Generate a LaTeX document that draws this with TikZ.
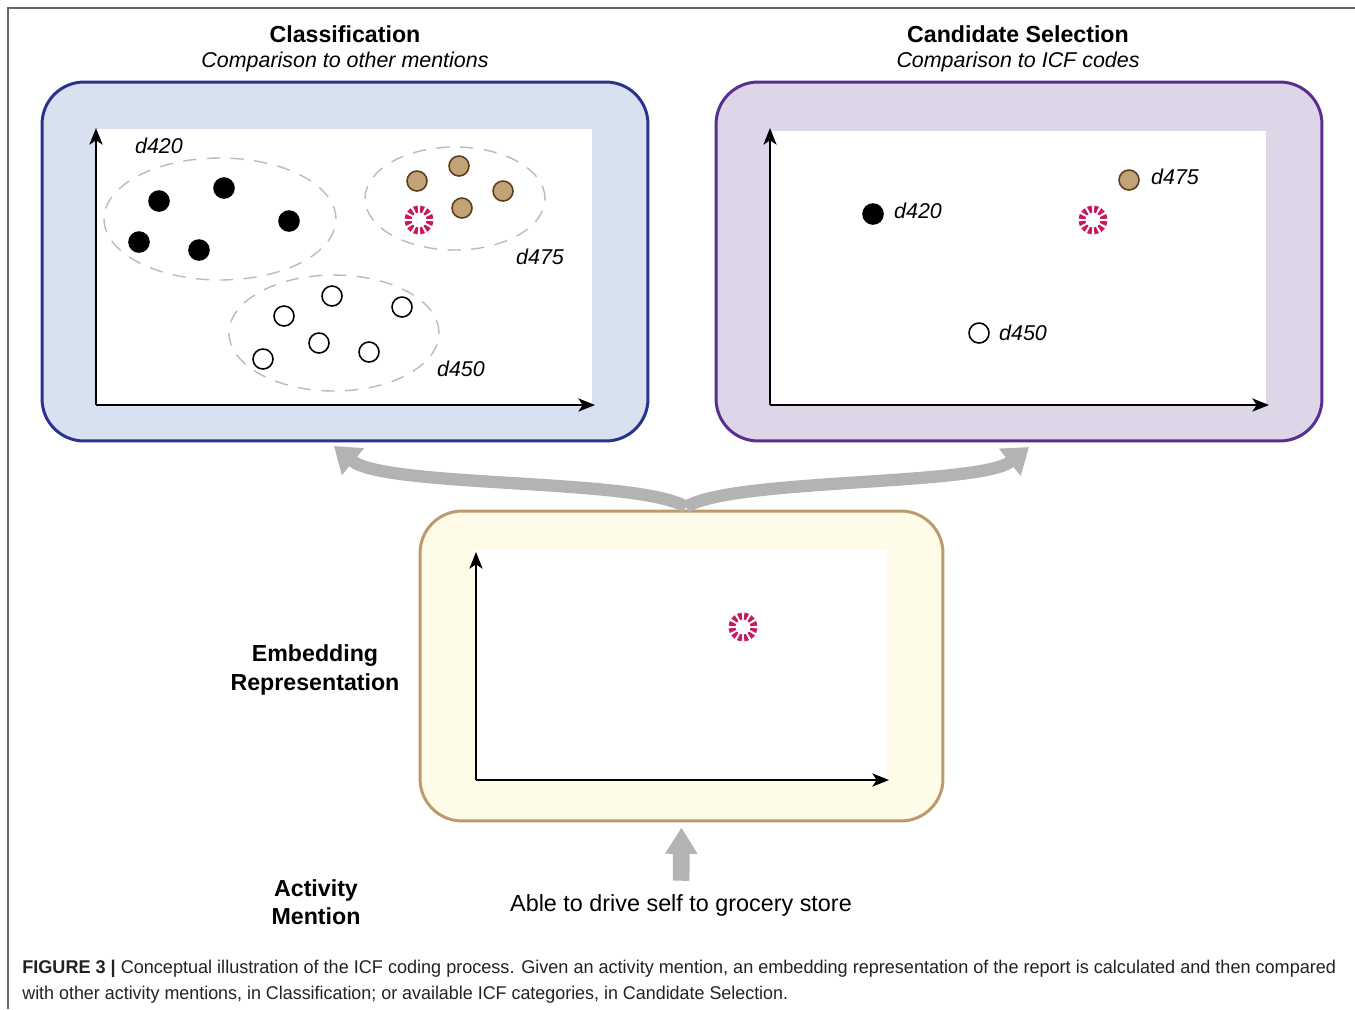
\documentclass[tikz,border=0pt]{standalone}
\usepackage{fontspec}
\usepackage{graphicx}
\setmainfont{Liberation Sans}
\usetikzlibrary{arrows.meta,shapes.geometric}
\definecolor{framecol}{HTML}{666666}
\definecolor{blueedge}{HTML}{2B3190}
\definecolor{bluefill}{HTML}{D7E1EF}
\definecolor{purpedge}{HTML}{5A2D91}
\definecolor{purpfill}{HTML}{DDD5E8}
\definecolor{tanedge}{HTML}{BC9A6C}
\definecolor{tanpanel}{HTML}{FEFBE8}
\definecolor{dottan}{HTML}{C2A277}
\definecolor{dotbrown}{HTML}{5C3D1A}
\definecolor{querycol}{HTML}{C81860}
\definecolor{flowgray}{HTML}{B3B3B3}
\definecolor{clustergray}{HTML}{BBBBBB}
\definecolor{captext}{HTML}{222222}
\begin{document}
\begin{tikzpicture}[x=0.02cm,y=-0.02cm,
  panelbox/.style={draw, rounded corners=0.84cm, line width=1.7pt, inner sep=0},
  plotarea/.style={fill=white, draw=none, inner sep=0},
  axisline/.style={line width=1.15pt, -{Stealth[length=9.5pt,width=7.5pt,inset=2.5pt]}},
  dotnode/.style={circle, minimum size=0.4cm, inner sep=0, line width=0.9pt, draw=black},
  blackdot/.style={dotnode, fill=black},
  tandot/.style={dotnode, fill=dottan, draw=dotbrown},
  opendot/.style={dotnode, fill=white},
  clusterring/.style={ellipse, draw=clustergray, inner sep=0, line width=0.8pt, dash pattern=on 7.5pt off 6pt},
  lbl/.style={font=\fontsize{12.2}{14}\selectfont\itshape, inner sep=0},
  ttl/.style={font=\fontsize{13.2}{16.2}\selectfont\bfseries, inner sep=0, align=center},
  subttl/.style={font=\fontsize{12.2}{14}\selectfont\itshape, inner sep=0},
  plaintxt/.style={font=\fontsize{13.3}{16}\selectfont, inner sep=0},
  captxt/.style={font=\fontsize{10.5}{12}\selectfont, text=captext, inner sep=0},
  flowarm/.style={draw=flowgray, line width=7pt, -{Triangle[length=14pt,width=19pt]}},
  upflow/.style={draw=flowgray, line width=9.5pt, -{Triangle[length=15pt,width=17.5pt]}},
  query/.pic={\foreach \a in {15,45,...,345}
      \fill[querycol] (\a-8:7.5) -- (\a-9.5:14.5) -- (\a+9.5:14.5) -- (\a+8:7.5) -- cycle;}
]
\useasboundingbox (0,0) rectangle (1355,1009);
% outer frame
\draw[framecol, line width=0.9pt] (1355,8) -- (8,8) -- (8,1009);

% titles
\node[ttl] (t1) at (345,34) {Classification};
\node[subttl] (s1) at (345,62) {Comparison to other mentions};
\node[ttl] (t2) at (1018,34) {Candidate Selection};
\node[subttl] (s2) at (1018,62) {Comparison to ICF codes};

% panels
\node[panelbox, draw=blueedge, fill=bluefill, minimum width=12.12cm, minimum height=7.18cm] (cls) at (345,261.5) {};
\node[panelbox, draw=purpedge, fill=purpfill, minimum width=12.12cm, minimum height=7.18cm] (cnd) at (1019,261.5) {};
\node[panelbox, draw=tanedge, fill=tanpanel, minimum width=10.46cm, minimum height=6.2cm] (emb) at (681.5,666) {};

% plot areas
\node[plotarea, minimum width=9.92cm, minimum height=5.52cm] (p1) at (344,267) {};
\node[plotarea, minimum width=9.92cm, minimum height=5.48cm] (p2) at (1018,268) {};
\node[plotarea, minimum width=8.22cm, minimum height=4.6cm] (p3) at (681.5,665) {};

% axes
\coordinate (o1) at (96,405);
\coordinate (o2) at (770,405);
\coordinate (o3) at (476,780);
\draw[axisline] (o1) -- (96,128);
\draw[axisline] (o1) -- (595,405);
\draw[axisline] (o2) -- (770,128);
\draw[axisline] (o2) -- (1269,405);
\draw[axisline] (o3) -- (476,552);
\draw[axisline] (o3) -- (889,780);

% clusters (left panel)
\node[clusterring, minimum width=4.64cm, minimum height=2.44cm] (c420) at (220,219) {};
\node[clusterring, minimum width=3.6cm, minimum height=2.06cm] (c475) at (455,198.5) {};
\node[clusterring, minimum width=4.2cm, minimum height=2.32cm] (c450) at (334,333) {};

\node[blackdot] (b1) at (159,201) {};
\node[blackdot] (b2) at (224,188) {};
\node[blackdot] (b3) at (289,221) {};
\node[blackdot] (b4) at (139,242) {};
\node[blackdot] (b5) at (199,250) {};

\node[tandot] (n1) at (417,181) {};
\node[tandot] (n2) at (459,166) {};
\node[tandot] (n3) at (503,191) {};
\node[tandot] (n4) at (462,208) {};
\pic at (419,220) {query};

\node[opendot] (w1) at (332,296) {};
\node[opendot] (w2) at (284,316) {};
\node[opendot] (w3) at (402,307) {};
\node[opendot] (w4) at (263,359) {};
\node[opendot] (w5) at (319,343) {};
\node[opendot] (w6) at (369,352) {};

\node[lbl] (l420) at (159,146) {d420};
\node[lbl] (l475) at (540,257) {d475};
\node[lbl] (l450) at (461,369) {d450};

% right panel
\node[blackdot] (r420) at (873,214) {};
\node[lbl] (rl420) at (918,211) {d420};
\node[tandot] (r475) at (1129,180) {};
\node[lbl] (rl475) at (1175,177) {d475};
\node[opendot] (r450) at (979,333) {};
\node[lbl] (rl450) at (1023,333) {d450};
\pic at (1093,220) {query};

% bottom panel
\pic at (743,627) {query};

% side labels
\node[ttl] (embl) at (315,670) {Embedding\\Representation};
\node[ttl] (actl) at (316,902) {Activity\\Mention};
\node[plaintxt, anchor=base] (mention) at (681,911) {Able to drive self to grocery store};

% flows
\coordinate (split) at (686,507);
\coordinate (clsin) at (334,446);
\coordinate (cndin) at (1029,447);
\draw[flowarm] (split) .. controls (640,478) and (385,488) .. (clsin);
\draw[flowarm] (split) .. controls (732,478) and (980,486) .. (cndin);
\draw[upflow, shorten <=0.26cm, shorten >=0.1cm] (mention.north) -- (emb.south);

% caption
\node[captxt, anchor=base west] (cap1) at (22,973) {\resizebox{26.28cm}{\height}{\textbf{FIGURE 3 |} Conceptual illustration of the ICF coding process. Given an activity mention, an embedding representation of the report is calculated and then compared}};
\node[captxt, anchor=base west] (cap2) at (22,999) {\resizebox{15.32cm}{\height}{with other activity mentions, in Classification; or available ICF categories, in Candidate Selection.}};
\end{tikzpicture}
\end{document}
